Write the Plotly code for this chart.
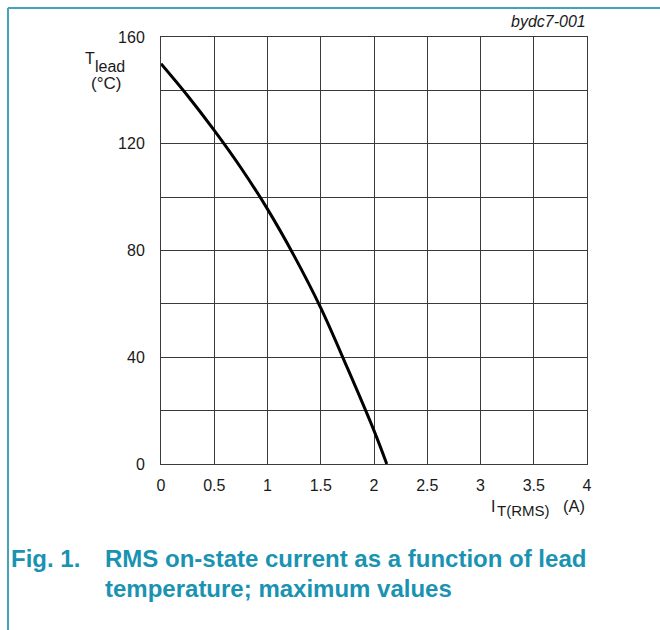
import plotly.graph_objects as go

# Data
current_a = [0, 0.25, 0.5, 0.75, 1.0, 1.25, 1.5, 1.75, 2.0, 2.12]
t_lead_c = [150, 138, 125, 111, 95.5, 78, 58.5, 36, 12.5, 0]

x_tickvals = [0, 0.5, 1, 1.5, 2, 2.5, 3, 3.5, 4]
x_ticktext = ["0", "0.5", "1", "1.5", "2", "2.5", "3", "3.5", "4"]
y_tickvals = [0, 20, 40, 60, 80, 100, 120, 140, 160]
y_ticktext = ["0", "", "40", "", "80", "", "120", "", "160"]

W, H = 660, 630
L, R, T, B = 161, 73, 37, 166
PW, PH = W - L - R, H - T - B


def px(x):
    return (x - L) / PW


def py(y):
    return (H - B - y) / PH


fig = go.Figure()
fig.add_trace(go.Scatter(x=current_a, y=t_lead_c, mode="lines",
                         line=dict(color="black", width=3, shape="spline", smoothing=1.0),
                         hoverinfo="skip", showlegend=False))

grid = "#3a3a3a"
font = "Liberation Sans, Arial, sans-serif"
ink = "#1a1a1a"
tickfont = dict(family=font, size=16, color=ink)
fig.update_xaxes(range=[0, 4], tickvals=x_tickvals, ticktext=x_ticktext,
                 showgrid=True, gridcolor=grid, gridwidth=1, zeroline=False,
                 showline=True, linecolor=grid, linewidth=1, mirror=True,
                 ticks="", ticklabelstandoff=7, tickfont=tickfont, fixedrange=True)
fig.update_yaxes(range=[0, 160], tickvals=y_tickvals, ticktext=y_ticktext,
                 showgrid=True, gridcolor=grid, gridwidth=1, zeroline=False,
                 showline=True, linecolor=grid, linewidth=1, mirror=True,
                 ticks="", ticklabelstandoff=12, tickfont=tickfont, fixedrange=True)

teal = "#1a93b3"


def note(x, y, text, size, color=ink, xanchor="left"):
    return dict(x=px(x), y=py(y), xref="paper", yref="paper", showarrow=False,
                text=text, font=dict(family=font, size=size, color=color),
                xanchor=xanchor, yanchor="middle")


ann = [
    # y-axis title
    note(83, 58, "T", 16),
    note(93, 67, "lead", 16),
    note(106, 83, "(°C)", 17, xanchor="center"),
    # x-axis title
    note(489, 506, "I", 16),
    note(495, 511, "T(RMS)", 15),
    note(587, 506, "(A)", 16.5, xanchor="right"),
    # figure code
    note(588, 22, "<i>bydc7-001</i>", 16, xanchor="right"),
    # caption
    note(9, 558, "<b>Fig. 1.</b>", 24, color=teal),
    note(103, 558, "<b>RMS on-state current as a function of lead</b>", 24, color=teal),
    note(103, 588, "<b>temperature; maximum values</b>", 24, color=teal),
]

border = "#45a2bb"
shapes = [
    dict(type="line", xref="paper", yref="paper", x0=px(8), x1=px(W), y0=py(8), y1=py(8),
         line=dict(color=border, width=2)),
    dict(type="line", xref="paper", yref="paper", x0=px(8), x1=px(8), y0=py(8), y1=py(H),
         line=dict(color=border, width=2)),
]

fig.update_layout(width=W, height=H, margin=dict(l=L, r=R, t=T, b=B),
                  paper_bgcolor="white", plot_bgcolor="white",
                  annotations=ann, shapes=shapes, showlegend=False)
fig.write_html("out.html")
